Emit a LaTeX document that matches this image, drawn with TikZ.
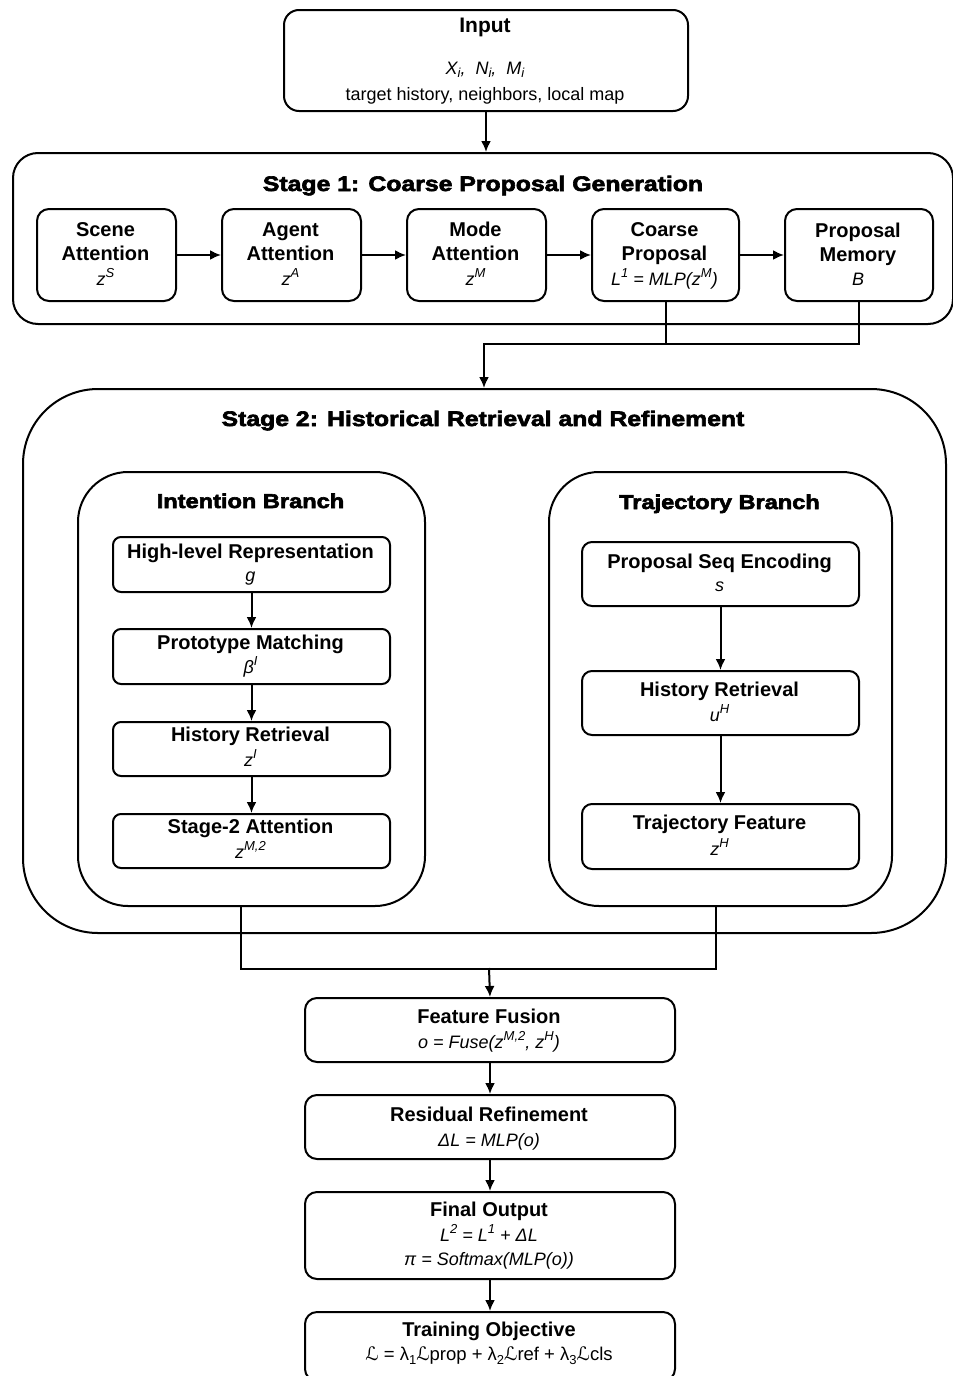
\documentclass[tikz,border=0pt]{standalone}
\usepackage{fontspec}
\setmainfont{Liberation Sans}
\newfontfamily\heavy{Liberation Sans Bold}[FakeBold=3, FakeStretch=1.18]
\newfontfamily\dvs{DejaVu Sans}
\usetikzlibrary{arrows.meta}
\newcommand{\mkbox}[6]{\node[box, rounded corners=#6pt, minimum width={#4-#2}, minimum height={#5-#3}] (#1) at (#2,#3) {};}
\newcommand{\sL}{{\dvs\upshape ℒ}}
\newcommand{\spx}[1]{\raisebox{0.42em}{\fontsize{13}{13}\selectfont #1}}
\newcommand{\sbx}[1]{\raisebox{-0.22em}{\fontsize{13}{13}\selectfont #1}}
\tikzset{
  box/.style={draw, line width=2pt, inner sep=0pt, anchor=north west},
  lbl/.style={anchor=base, inner sep=0pt, font=\fontsize{20}{24}\selectfont\bfseries},
  mth/.style={anchor=base, inner sep=0pt, font=\fontsize{18}{22}\selectfont\itshape},
  txt/.style={anchor=base, inner sep=0pt, font=\fontsize{18}{22}\selectfont},
  sttl/.style={anchor=base, inner sep=0pt, font=\heavy\fontsize{21}{25}\selectfont},
  bttl/.style={anchor=base, inner sep=0pt, font=\heavy\fontsize{20}{24}\selectfont},
  conn/.style={line width=2pt},
  arr/.style={conn, -{Latex[length=11pt,width=10pt]}}
}
\begin{document}
\begin{tikzpicture}[x=1pt,y=-1pt]
\fill[white] (0,0) rectangle (953,1376);
\useasboundingbox (0,0) rectangle (953,1376);

% Input
\mkbox{input}{283}{9}{687}{110}{15}
\node[lbl, font=\fontsize{21}{25}\selectfont\bfseries] (inT) at (485,32) {Input};
\node[mth] (inM) at (485,74) {X\sbx{i},\ \ N\sbx{i},\ \ M\sbx{i}};
\node[txt] (inX) at (485,100) {target history, neighbors, local map};

% Stage 1
\mkbox{stage1}{12}{152}{952}{323}{25}
\node[sttl] (s1T) at (483,191) {Stage 1: Coarse Proposal Generation};
\mkbox{scene}{36}{208}{175}{300}{12}
\mkbox{agent}{221}{208}{360}{300}{12}
\mkbox{mode}{406}{208}{545}{300}{12}
\mkbox{coarse}{591}{208}{738}{300}{12}
\mkbox{memory}{784}{208}{932}{300}{12}
\node[lbl] (scA) at (105.5,236) {Scene};
\node[lbl] (scB) at (105.5,260) {Attention};
\node[mth] (scC) at (105.5,285) {z\spx{S}};
\node[lbl] (agA) at (290.5,236) {Agent};
\node[lbl] (agB) at (290.5,260) {Attention};
\node[mth] (agC) at (290.5,285) {z\spx{A}};
\node[lbl] (moA) at (475.5,236) {Mode};
\node[lbl] (moB) at (475.5,260) {Attention};
\node[mth] (moC) at (475.5,285) {z\spx{M}};
\node[lbl] (coA) at (664.5,236) {Coarse};
\node[lbl] (coB) at (664.5,260) {Proposal};
\node[mth] (coC) at (664.5,285) {L\spx{1} = MLP(z\spx{M})};
\node[lbl] (meA) at (858,237.5) {Proposal};
\node[lbl] (meB) at (858,261.5) {Memory};
\node[mth] (meC) at (858,285) {B};
\draw[arr] (scene.east) -- (agent.west);
\draw[arr] (agent.east) -- (mode.west);
\draw[arr] (mode.east) -- (coarse.west);
\draw[arr] (coarse.east) -- (memory.west);
\draw[arr] (input.south) -- (input.south |- stage1.north);

% Stage 2
\mkbox{stage2}{22}{388}{945}{932}{75}
\node[sttl] (s2T) at (483,426) {Stage 2: Historical Retrieval and Refinement};
\coordinate (j1) at (484,344);
\draw[conn] (coarse.south) |- (j1);
\draw[conn] (memory.south) |- (j1);
\draw[arr] ([yshift=1pt]j1) -- (j1 |- stage2.north);

% Intention branch
\mkbox{intention}{77}{471}{424}{905}{50}
\node[bttl] (ibT) at (250.5,508) {Intention Branch};
\mkbox{hl}{112}{536}{389}{591}{8}
\mkbox{proto}{112}{628}{389}{683}{8}
\mkbox{histI}{112}{721}{389}{775}{8}
\mkbox{sat}{112}{813}{389}{867}{8}
\node[lbl] (hlA) at (250.5,558) {High-level Representation};
\node[mth] (hlB) at (250.5,581) {g};
\node[lbl] (prA) at (250.5,649) {Prototype Matching};
\node[mth] (prB) at (250.5,673) {β\spx{I}};
\node[lbl] (hiA) at (250.5,741) {History Retrieval};
\node[mth] (hiB) at (250.5,766) {z\spx{I}};
\node[lbl] (saA) at (250.5,833) {Stage-2 Attention};
\node[mth] (saB) at (250.5,858) {z\spx{M,2}};
\draw[arr] (hl.south) -- (proto.north);
\draw[arr] (proto.south) -- (histI.north);
\draw[arr] (histI.south) -- (sat.north);

% Trajectory branch
\mkbox{trajectory}{548}{471}{891}{905}{50}
\node[bttl] (tbT) at (719.5,509) {Trajectory Branch};
\mkbox{pse}{581}{541}{858}{605}{10}
\mkbox{histH}{581}{670}{858}{734}{10}
\mkbox{tf}{581}{803}{858}{868}{10}
\node[lbl] (psA) at (719.5,568) {Proposal Seq Encoding};
\node[mth] (psB) at (719.5,591) {s};
\node[lbl] (hhA) at (719.5,696) {History Retrieval};
\node[mth] (hhB) at (719.5,721) {u\spx{H}};
\node[lbl] (tfA) at (719.5,829) {Trajectory Feature};
\node[mth] (tfB) at (719.5,855) {z\spx{H}};
\draw[arr] (pse.south) -- (histH.north);
\draw[arr] (histH.south) -- (tf.north);

% Bottom pipeline
\mkbox{fusion}{304}{997}{674}{1061}{12}
\mkbox{resid}{304}{1094}{674}{1158}{12}
\mkbox{final}{304}{1191}{674}{1278}{12}
\mkbox{train}{304}{1311}{674}{1380}{12}
\coordinate (j2) at (489,969);
\draw[conn] ([xshift=-11pt]intention.south) |- (j2) -| ([xshift=-4.5pt]trajectory.south);
\draw[arr] ([yshift=1pt]j2) -- (fusion.north);
\node[lbl] (fuA) at (489,1023) {Feature Fusion};
\node[mth] (fuB) at (489,1048) {o = Fuse(z\spx{M,2}, z\spx{H})};
\node[lbl] (reA) at (489,1121.5) {Residual Refinement};
\node[mth] (reB) at (489,1146) {ΔL = MLP(o)};
\node[lbl] (fiA) at (489,1216) {Final Output};
\node[mth] (fiB) at (489,1241.5) {L\spx{2} = L\spx{1} + ΔL};
\node[mth] (fiC) at (489,1265.5) {π = Softmax(MLP(o))};
\node[lbl] (trA) at (489,1336.5) {Training Objective};
\node[txt, font=\fontsize{18.5}{22}\selectfont] (trB) at (489,1360) {\sL{} = λ\sbx{1}\sL{}prop + λ\sbx{2}\sL{}ref + λ\sbx{3}\sL{}cls};
\draw[arr] (fusion.south) -- (resid.north);
\draw[arr] (resid.south) -- (final.north);
\draw[arr] (final.south) -- (train.north);
\end{tikzpicture}
\end{document}
